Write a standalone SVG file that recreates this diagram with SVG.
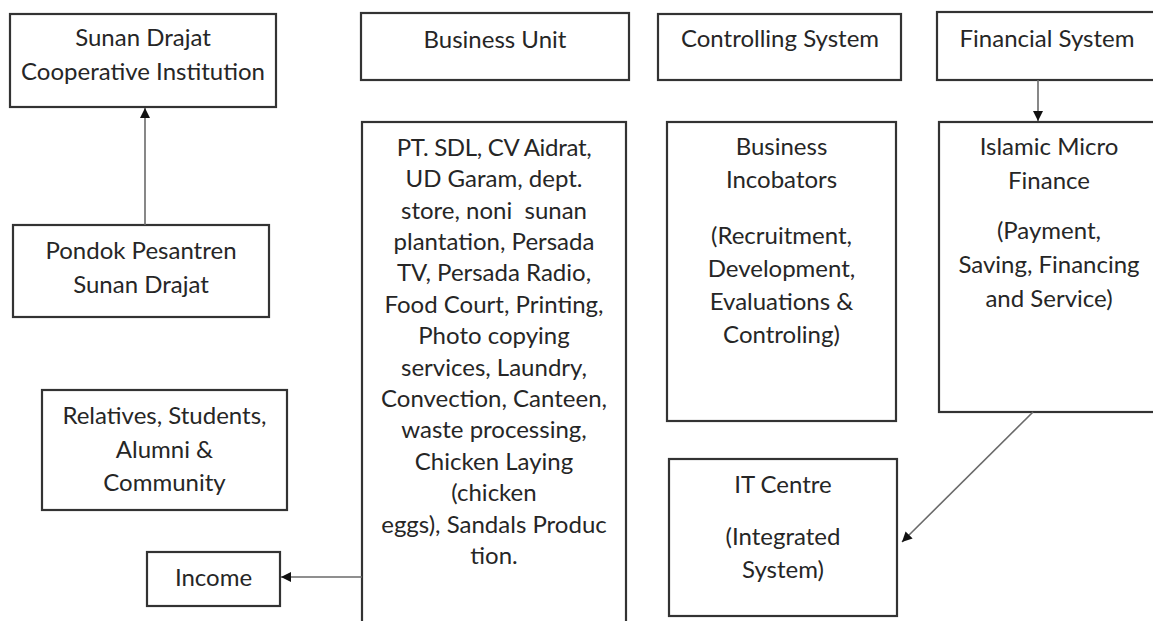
<svg xmlns="http://www.w3.org/2000/svg" width="1153" height="621" viewBox="0 0 1153 621">
<style>
.box{fill:#fff;stroke:#333;stroke-width:2.2}
.t{font-family:Lato,"Liberation Sans",sans-serif;font-size:24px;fill:#262626;text-anchor:middle}
.c{stroke:#6a6a6a;stroke-width:1.6;fill:none;marker-end:url(#ah)}
</style>
<defs>
<marker id="ah" viewBox="0 0 10 10" refX="10" refY="5" markerWidth="10" markerHeight="10" markerUnits="userSpaceOnUse" orient="auto">
<path d="M0,0 L10,5 L0,10 z" fill="#111"/>
</marker>
</defs>
<rect width="1153" height="621" fill="#fff"/>
<g id="coop">
<rect class="box" x="10" y="14" width="266" height="93"/>
<text class="t" x="143" y="46">Sunan Drajat</text>
<text class="t" x="143" y="80">Cooperative Institution</text>
</g>
<g id="pondok">
<rect class="box" x="13" y="225" width="256" height="92"/>
<text class="t" x="141" y="259">Pondok Pesantren</text>
<text class="t" x="141" y="293">Sunan Drajat</text>
</g>
<g id="relatives">
<rect class="box" x="42" y="390" width="245" height="120"/>
<text class="t" x="164.5" y="424">Relatives, Students,</text>
<text class="t" x="164.5" y="458">Alumni &amp;</text>
<text class="t" x="164.5" y="491">Community</text>
</g>
<g id="income">
<rect class="box" x="147" y="552" width="133" height="54"/>
<text class="t" x="213.5" y="586">Income</text>
</g>
<g id="business-unit">
<rect class="box" x="361" y="13" width="268" height="67"/>
<text class="t" x="495" y="48">Business Unit</text>
</g>
<g id="business-list">
<rect class="box" x="362" y="122" width="264" height="510"/>
<text class="t" x="494" y="155.7" letter-spacing="-0.3">PT. SDL, CV Aidrat,</text>
<text class="t" x="494" y="187.1">UD Garam, dept.</text>
<text class="t" x="494" y="218.5" xml:space="preserve">store, noni  sunan</text>
<text class="t" x="494" y="249.9">plantation, Persada</text>
<text class="t" x="494" y="281.3">TV, Persada Radio,</text>
<text class="t" x="494" y="312.7">Food Court, Printing,</text>
<text class="t" x="494" y="344.1">Photo copying</text>
<text class="t" x="494" y="375.5">services, Laundry,</text>
<text class="t" x="494" y="406.9">Convection, Canteen,</text>
<text class="t" x="494" y="438.3">waste processing,</text>
<text class="t" x="494" y="469.7">Chicken Laying</text>
<text class="t" x="494" y="501.1">(chicken</text>
<text class="t" x="494" y="532.5">eggs), Sandals Produc</text>
<text class="t" x="494" y="563.9">tion.</text>
</g>
<g id="controlling">
<rect class="box" x="658" y="14" width="243" height="66"/>
<text class="t" x="780" y="47">Controlling System</text>
</g>
<g id="incubators">
<rect class="box" x="667" y="122" width="229" height="299"/>
<text class="t" x="781.5" y="155">Business</text>
<text class="t" x="781.5" y="188">Incobators</text>
<text class="t" x="781.5" y="244">(Recruitment,</text>
<text class="t" x="781.5" y="277">Development,</text>
<text class="t" x="781.5" y="310">Evaluations &amp;</text>
<text class="t" x="781.5" y="343">Controling)</text>
</g>
<g id="financial">
<rect class="box" x="937" y="12" width="225" height="68"/>
<text class="t" x="1047" y="47">Financial System</text>
</g>
<g id="microfinance">
<rect class="box" x="939" y="122" width="223" height="290"/>
<text class="t" x="1049" y="155">Islamic Micro</text>
<text class="t" x="1049" y="189">Finance</text>
<text class="t" x="1049" y="239">(Payment,</text>
<text class="t" x="1049" y="273">Saving, Financing</text>
<text class="t" x="1049" y="307">and Service)</text>
</g>
<g id="it-centre">
<rect class="box" x="669" y="459" width="228" height="157"/>
<text class="t" x="783" y="493">IT Centre</text>
<text class="t" x="783" y="545">(Integrated</text>
<text class="t" x="783" y="578">System)</text>
</g>
<g id="connectors">
<line class="c" x1="145" y1="225" x2="145" y2="108"/>
<line class="c" x1="1038" y1="80" x2="1038" y2="121"/>
<line class="c" x1="1033" y1="412" x2="902" y2="542"/>
<line class="c" x1="362" y1="577" x2="281" y2="577"/>
</g>
</svg>
